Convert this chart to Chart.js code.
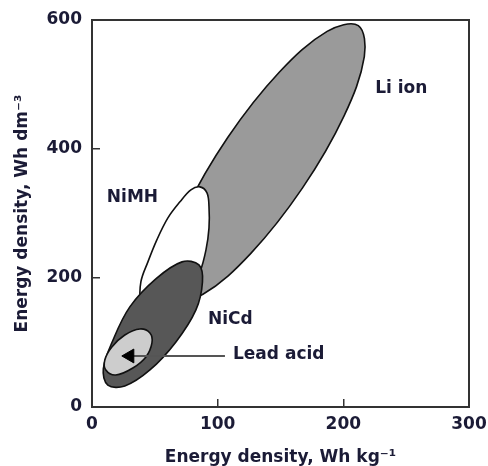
<!DOCTYPE html>
<html>
<head>
<meta charset="utf-8">
<script src="https://cdn.jsdelivr.net/npm/chart.js@4.4.1/dist/chart.umd.min.js"></script>
<style>
  html, body { margin: 0; padding: 0; background: #ffffff; }
  #box { width: 488px; height: 466px; }
</style>
</head>
<body>
<div id="box"><canvas id="energy_chart"></canvas></div>
<script>
//
// outline points of the regions
// x = Wh/kg, y = Wh/dm3
//
var li_ion_x = [211.9, 216.7, 200.5, 167.4, 126.4, 88.3, 63.5, 58.6, 74.9, 108.0, 149.0, 187.1];
var li_ion_y = [591.3, 543.2, 451.0, 339.3, 238.2, 174.8, 165.9, 214.0, 306.1, 417.8, 519.0, 582.3];

var nimh_x = [85.9, 91.5, 93.1, 93.1, 90.7, 85.9, 76.3, 60.4, 44.5, 38.9, 38.9, 44.5, 51.6, 60.4, 70.0, 78.7];
var nimh_y = [341.3, 332.0, 310.3, 277.7, 243.6, 209.5, 173.8, 150.5, 147.4, 163.0, 193.9, 225.0, 259.1, 293.2, 318.1, 336.7];

var nicd_x = [85.1, 87.9, 82.7, 66.8, 46.1, 26.1, 12.6, 9.0, 16.4, 30.1, 50.8, 71.6];
var nicd_y = [220.3, 193.9, 150.5, 100.9, 57.4, 32.6, 34.1, 59.0, 102.4, 155.2, 198.6, 225.0];

var lead_x = [38.1, 46.1, 47.7, 42.9, 32.5, 18.9, 11.0, 10.2, 15.8, 26.1];
var lead_y = [121.0, 114.8, 99.3, 77.6, 60.5, 49.6, 57.4, 72.9, 93.1, 111.7];

// arrow from the "Lead acid" label to its region
var arrow_x = [105.8, 30.1];
var arrow_y = [79.1, 79.1];

// region names and where they stand
var label_texts = ['Li ion', 'NiMH', 'NiCd', 'Lead acid'];
var label_x = [225.3, 11.8, 92.3, 112.2];
var label_y = [493.4, 324.3, 135.0, 80.7];

// axes
var x_ticks = [0, 100, 200, 300];
var y_ticks = [0, 200, 400, 600];
var x_title = 'Energy density, Wh kg\u207B\u00B9';
var y_title = 'Energy density, Wh dm\u207B\u00B3';

var text_color = '#1b1b36';
var font_family = '"DejaVu Sans", Arial, sans-serif';

function toPoints(xs, ys) {
  var pts = [];
  for (var i = 0; i < xs.length; i++) {
    pts.push({x : xs[i], y : ys[i]});
  }
  return pts;
}

function regionDataset(name, xs, ys, fill_color) {
  return {
    label : name,
    data : toPoints(xs, ys),
    showLine : true,
    fill : 'shape',
    backgroundColor : fill_color,
    borderColor : '#111111',
    borderWidth : 1.6,
    tension : 0.36,
    pointRadius : 0,
    closed_loop : true
  };
}

//
// plugin: close the region outlines, draw frame and the names
//
var extras_plugin = {
  id : 'extras',
  afterDatasetsUpdate : function(chart) {
    chart.data.datasets.forEach(function(ds, i) {
      if (ds.closed_loop) {
        var meta = chart.getDatasetMeta(i);
        meta.dataset._loop = true;
        meta.dataset._fullLoop = true;
      }
    });
  },
  afterDatasetsDraw : function(chart) {
    var ctx = chart.ctx;
    var area = chart.chartArea;
    var xs = chart.scales.x;
    var ys = chart.scales.y;
    ctx.save();
    ctx.strokeStyle = '#333333';
    ctx.lineWidth = 2;
    ctx.strokeRect(area.left, area.top, area.right - area.left, area.bottom - area.top);
    ctx.fillStyle = text_color;
    ctx.font = 'bold 17px ' + font_family;
    ctx.textAlign = 'left';
    ctx.textBaseline = 'middle';
    for (var i = 0; i < label_texts.length; i++) {
      ctx.fillText(label_texts[i], xs.getPixelForValue(label_x[i]), ys.getPixelForValue(label_y[i]));
    }
    ctx.restore();
  }
};

var chart_config = {
  type : 'scatter',
  data : {
    datasets : [
      {
        label : 'arrow',
        data : toPoints(arrow_x, arrow_y),
        showLine : true,
        borderColor : '#555555',
        borderWidth : 2,
        pointRadius : [0, 8],
        pointStyle : 'triangle',
        rotation : 270,
        pointBackgroundColor : '#000000',
        pointBorderColor : '#000000',
        pointBorderWidth : 1
      },
      regionDataset('Lead acid', lead_x, lead_y, '#cdcdcd'),
      regionDataset('NiCd', nicd_x, nicd_y, '#575757'),
      regionDataset('NiMH', nimh_x, nimh_y, '#ffffff'),
      regionDataset('Li ion', li_ion_x, li_ion_y, '#9a9a9a')
    ]
  },
  options : {
    responsive : true,
    maintainAspectRatio : false,
    animation : false,
    layout : {padding : {left : 0, top : 20, right : 19, bottom : 0}},
    plugins : {legend : {display : false}, tooltip : {enabled : false}},
    scales : {
      x : {
        type : 'linear',
        min : 0,
        max : 300,
        afterFit : function(scale) {
          scale.height = 59;
          scale.paddingLeft = 0;
          scale.paddingRight = 0;
        },
        afterBuildTicks : function(scale) {
          scale.ticks = x_ticks.map(function(v) { return {value : v}; });
        },
        grid : {drawOnChartArea : false, tickLength : -8, color : '#333333', lineWidth : 1.5},
        border : {display : false},
        ticks : {
          padding : 15,
          color : text_color,
          font : {family : font_family, size : 17, weight : 'bold'}
        },
        title : {
          display : true,
          text : x_title,
          color : text_color,
          padding : 0,
          font : {family : font_family, size : 17, weight : 'bold', lineHeight : 1}
        }
      },
      y : {
        type : 'linear',
        min : 0,
        max : 600,
        afterFit : function(scale) {
          scale.width = 92;
          scale.paddingTop = 0;
          scale.paddingBottom = 0;
        },
        afterBuildTicks : function(scale) {
          scale.ticks = y_ticks.map(function(v) { return {value : v}; });
        },
        grid : {drawOnChartArea : false, tickLength : -8, color : '#333333', lineWidth : 1.5},
        border : {display : false},
        ticks : {
          padding : 18,
          color : text_color,
          font : {family : font_family, size : 17, weight : 'bold'}
        },
        title : {
          display : true,
          text : y_title,
          color : text_color,
          padding : {top : 14, bottom : 0},
          font : {family : font_family, size : 17, weight : 'bold', lineHeight : 1}
        }
      }
    }
  },
  plugins : [extras_plugin]
};

var energy_chart = new Chart(document.getElementById('energy_chart').getContext('2d'), chart_config);
</script>
</body>
</html>
